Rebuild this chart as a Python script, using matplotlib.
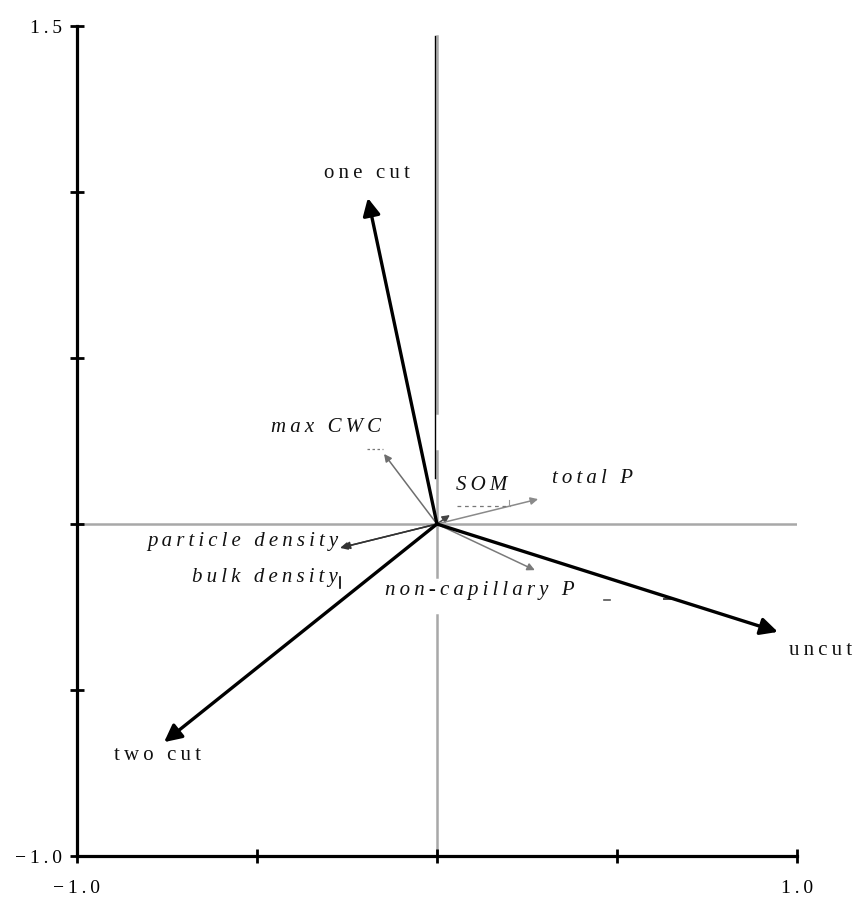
import matplotlib
matplotlib.use("Agg")
import matplotlib.pyplot as plt

# treatment scores (thick arrows)
treatments = ["one cut", "uncut", "two cut"]
treat_x = [-0.192, 0.947, -0.758]
treat_y = [0.982, -0.325, -0.657]
treat_lab_x = [-0.194, 1.067, -0.775]
treat_lab_y = [1.057, -0.380, -0.696]

# soil variables (thin arrows)
variables = ["max CWC", "SOM", "total P", "particle density", "bulk density", "non-capillary P"]
var_x = [-0.147, 0.036, 0.281, -0.269, -0.262, 0.272]
var_y = [0.211, 0.027, 0.075, -0.072, -0.070, -0.139]
var_lab_x = [-0.308, 0.125, 0.433, -0.275, -0.275, 0.12]
var_lab_y = [0.292, 0.117, 0.136, -0.054, -0.160, -0.199]
var_ha = ["center", "center", "center", "right", "right", "center"]

xticks = [-1.0, -0.5, 0.0, 0.5, 1.0]
yticks = [-1.0, -0.5, 0.0, 0.5, 1.0, 1.5]


def spaced(s):
    return "\u2009".join(s)


plt.rcParams["font.family"] = ["Liberation Serif", "DejaVu Serif"]

fig = plt.figure(figsize=(8.57, 8.97), dpi=100)
ax = fig.add_axes([0.0898, 0.0457, 0.8401, 0.9253])
ax.set_xlim(-1.0, 1.0)
ax.set_ylim(-1.0, 1.5)

for side in ("top", "right"):
    ax.spines[side].set_visible(False)
for side in ("left", "bottom"):
    ax.spines[side].set_linewidth(2.3)
    ax.spines[side].set_color("black")
    ax.spines[side].set_zorder(6)

ax.set_xticks(xticks)
ax.set_xticklabels([spaced("\u22121.0"), "", "", "", spaced("1.0")])
ax.set_yticks(yticks)
ax.set_yticklabels([spaced("\u22121.0"), "", "", "", "", spaced("1.5")])
ax.tick_params(axis="both", direction="inout", length=10, width=2, labelsize=14)
ax.tick_params(axis="x", pad=12)
ax.tick_params(axis="y", pad=6)

# reference cross through the origin
gray = "#a8a8a8"
ax.plot([-1.0, 1.0], [0, 0], color=gray, lw=1.8, zorder=1)
for y0, y1 in [(-1.0, -0.275), (-0.16, 0.22), (0.334, 1.47)]:
    ax.plot([0, 0], [y0, y1], color=gray, lw=1.8, zorder=1)
ax.plot([-0.006, -0.006], [0.14, 1.47], color="black", lw=1.0, zorder=2)

# thin variable arrows
var_colors = ["#6e6e6e", "#444444", "#8a8a8a", "#333333", "#333333", "#7a7a7a"]
for vx, vy, c in zip(var_x, var_y, var_colors):
    ax.annotate("", xy=(vx, vy), xytext=(0, 0),
                arrowprops=dict(arrowstyle="-|>", color=c, lw=1.1,
                                mutation_scale=11, shrinkA=0, shrinkB=0),
                zorder=3)

for name, lx, ly, ha in zip(variables, var_lab_x, var_lab_y, var_ha):
    ax.text(lx, ly, spaced(name), ha=ha, va="center", fontsize=15,
            style="italic", color="#111111", zorder=4)

# leftover dashes around the variable labels
ax.plot([-0.194, -0.15], [0.226, 0.226], color="#777777", lw=0.9, ls=(0, (2, 2)), zorder=3)
ax.plot([0.056, 0.203], [0.054, 0.054], color="#777777", lw=0.9, ls=(0, (3, 3)), zorder=3)
ax.plot([0.2, 0.2], [0.054, 0.072], color="#999999", lw=0.8, zorder=3)
ax.plot([0.465, 0.48], [-0.229, -0.229], color="#555555", lw=1.2, zorder=3)
ax.plot([0.63, 0.655], [-0.226, -0.226], color="#444444", lw=1.4, zorder=3)
ax.plot([-0.269, -0.269], [-0.16, -0.193], color="black", lw=1.2, zorder=3)

# thick treatment arrows
for tx, ty in zip(treat_x, treat_y):
    ax.annotate("", xy=(tx, ty), xytext=(0, 0),
                arrowprops=dict(arrowstyle="-|>", color="black", lw=2.4,
                                mutation_scale=26, shrinkA=0, shrinkB=0),
                zorder=5)

for name, lx, ly in zip(treatments, treat_lab_x, treat_lab_y):
    ax.text(lx, ly, spaced(name), ha="center", va="center", fontsize=15,
            color="#111111", zorder=5)

fig.savefig("out.png", dpi=100)
